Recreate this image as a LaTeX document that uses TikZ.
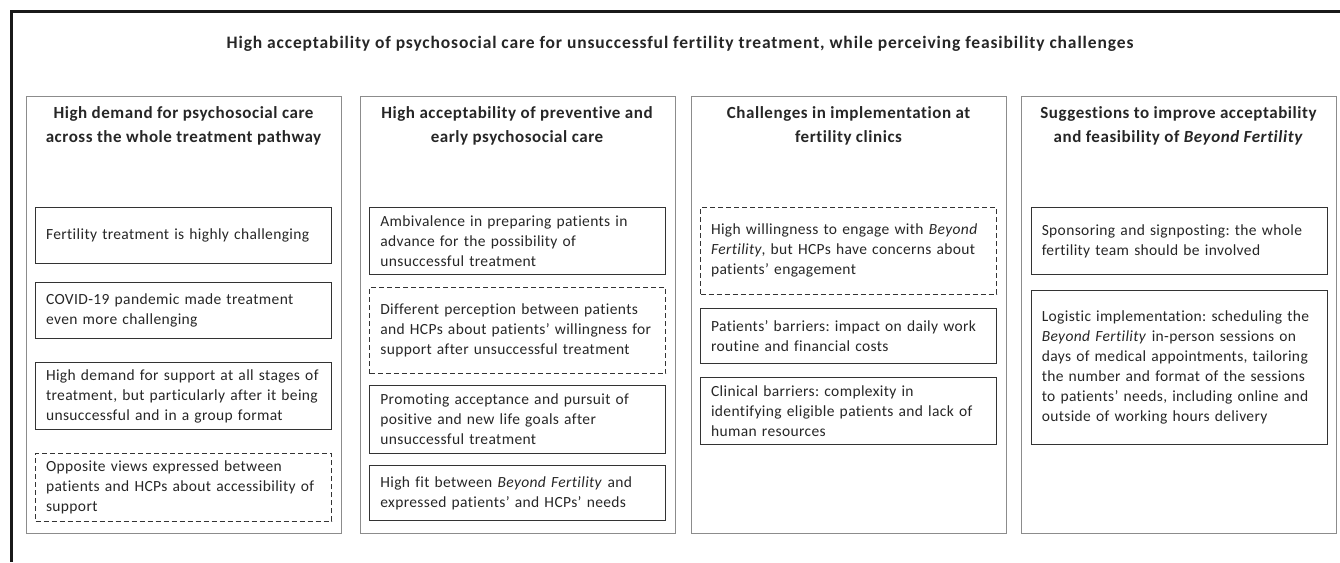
\documentclass[tikz,border=0pt]{standalone}
\usepackage{fontspec}
\setmainfont[Ligatures=CommonOff]{Carlito}
\newfontfamily\bodyf[LetterSpace=2.4,Ligatures=CommonOff]{Carlito}
\newfontfamily\hdrf[LetterSpace=3.3,Ligatures=CommonOff]{Carlito}
\newfontfamily\titf[LetterSpace=5,Ligatures=CommonOff]{Carlito}
\frenchspacing
\begin{document}
\begin{tikzpicture}[x=1pt,y=-1pt,
  txt/.style={text=black!85},
  colbox/.style={draw=black!45, line width=1pt, anchor=north west, inner sep=0pt},
  hdr/.style={txt, font=\hdrf\fontsize{17}{23.5}\selectfont\bfseries, align=center},
  ibox/.style={txt, draw=black!80, line width=1.1pt, anchor=north west, inner xsep=10.5pt, inner ysep=0pt,
     minimum width=296pt, text width=275pt, align=left, font=\bodyf\fontsize{15.5}{20}\selectfont},
  dbox/.style={ibox, dash pattern=on 5pt off 3pt}]
\useasboundingbox (0,0) rectangle (1340,562);
% outer frame
\coordinate (ftl) at (11,11);
\coordinate (ftr) at (1340,11);
\coordinate (fbl) at (11,562);
\draw[line width=3pt, black!90] (ftr) -- (ftl) -- (fbl);
% title
\node[txt, font=\titf\fontsize{17.5}{20}\selectfont\bfseries] (title) at (680,44)
  {High acceptability of psychosocial care for unsuccessful fertility treatment, while perceiving feasibility challenges};
% columns
\node[colbox, minimum width=315pt, minimum height=437pt] (c1) at (26,96) {};
\node[colbox, minimum width=315pt, minimum height=437pt] (c2) at (359.5,96) {};
\node[colbox, minimum width=315pt, minimum height=437pt] (c3) at (691,96) {};
\node[colbox, minimum width=315pt, minimum height=437pt] (c4) at (1021,96) {};
% headers
\node[hdr] (h1) at (183.5,126) {High demand for psychosocial care\\across the whole treatment pathway};
\node[hdr] (h2) at (517,126) {High acceptability of preventive and\\early psychosocial care};
\node[hdr] (h3) at (848.5,126) {Challenges in implementation at\\fertility clinics};
\node[hdr] (h4) at (1178.5,126) {Suggestions to improve acceptability\\and feasibility of \textit{Beyond Fertility}};
% column 1
\node[ibox, minimum height=55.5pt] (a1) at (35,207) {Fertility treatment is highly challenging};
\node[ibox, minimum height=55.5pt] (a2) at (35,282.3) {COVID-19 pandemic made treatment\\even more challenging};
\node[ibox, minimum height=67.6pt] (a3) at (35,361.7) {High demand for support at all stages of\\treatment, but particularly after it being\\unsuccessful and in a group format};
\node[dbox, minimum height=67.4pt] (a4) at (35,453.3) {Opposite views expressed between\\patients and HCPs about accessibility of\\support};
% column 2
\node[ibox, minimum width=295pt, minimum height=67.3pt] (b1) at (369.3,207) {Ambivalence in preparing patients in\\advance for the possibility of\\unsuccessful treatment};
\node[dbox, minimum width=295pt, minimum height=86.3pt] (b2) at (369.3,287) {Different perception between patients\\and HCPs about patients’ willingness for\\support after unsuccessful treatment};
\node[ibox, minimum width=295pt, minimum height=67.7pt] (b3) at (369.3,385) {Promoting acceptance and pursuit of\\positive and new life goals after\\unsuccessful treatment};
\node[ibox, minimum width=295pt, minimum height=55pt] (b4) at (369.3,465) {High fit between \textit{Beyond Fertility} and\\expressed patients’ and HCPs’ needs};
% column 3
\node[dbox, minimum width=295pt, minimum height=86.6pt] (d1) at (700,207) {High willingness to engage with \textit{Beyond}\\\textit{Fertility}, but HCPs have concerns about\\patients’ engagement};
\node[ibox, minimum width=295pt, minimum height=55.6pt] (d2) at (700,307.7) {Patients’ barriers: impact on daily work\\routine and financial costs};
\node[ibox, minimum width=295pt, minimum height=67.6pt] (d3) at (700,376.7) {Clinical barriers: complexity in\\identifying eligible patients and lack of\\human resources};
% column 4
\node[ibox, minimum height=67.3pt] (e1) at (1030.7,207) {Sponsoring and signposting: the whole\\fertility team should be involved};
\node[ibox, minimum height=154.3pt] (e2) at (1030.7,290) {Logistic implementation: scheduling the\\\textit{Beyond Fertility} in-person sessions on\\days of medical appointments, tailoring\\the number and format of the sessions\\to patients’ needs, including online and\\outside of working hours delivery};
\end{tikzpicture}
\end{document}
